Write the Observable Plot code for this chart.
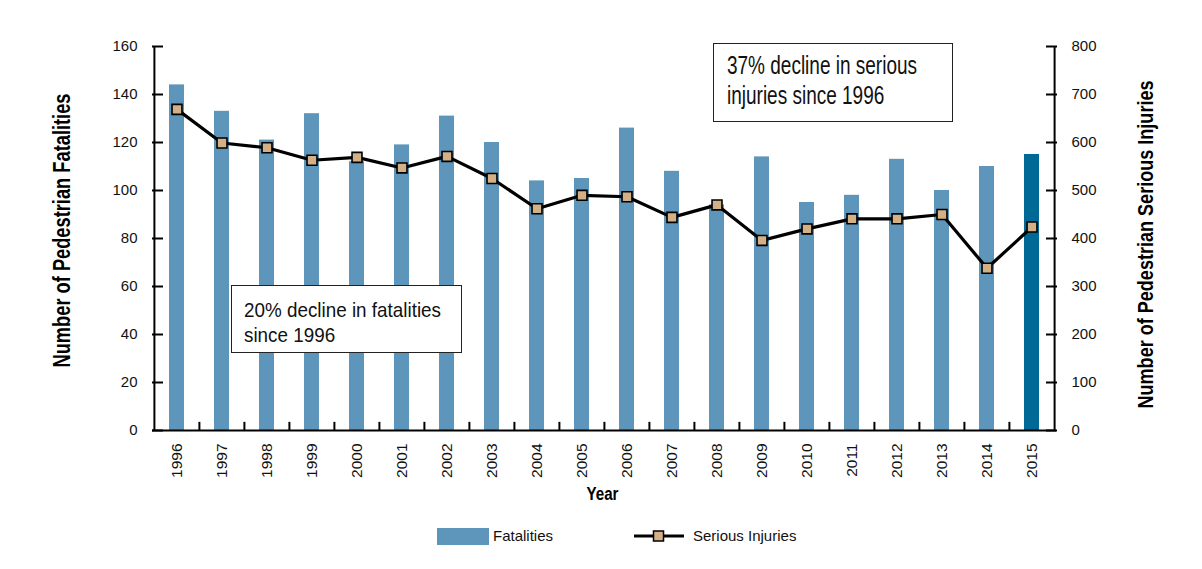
<!DOCTYPE html>
<html>
<head>
<meta charset="utf-8">
<script src="https://cdn.jsdelivr.net/npm/d3@7"></script>
<script src="https://cdn.jsdelivr.net/npm/@observablehq/plot@0.6"></script>
<style>
  html, body { margin: 0; padding: 0; background: #fff; }
  #wrap { position: relative; width: 1202px; height: 569px; background: #fff; overflow: hidden; }
  #chart { position: absolute; left: 0; top: 0; }
  .note { position: absolute; box-sizing: border-box; border: 1px solid #222; background: #fff;
          font-family: "Liberation Sans", Arial, sans-serif; color: #111; white-space: nowrap; }
  .note div { transform-origin: left center; width: max-content; }
  .leg { position: absolute; font-family: "Liberation Sans", Arial, sans-serif; font-size: 15px; color: #111; line-height: 18px; }
</style>
</head>
<body>
<div id="wrap">
  <div id="chart"></div>
  <div class="note" id="note1" data-fit="197" style="left:231px;top:285px;width:231px;height:68px;padding:11px 0 0 12px;font-size:21px;line-height:25px;">
    <div>20% decline in fatalities</div><div>since 1996</div>
  </div>
  <div class="note" id="note2" data-fit="190" style="left:713px;top:43px;width:240px;height:79px;padding:6px 0 0 13px;font-size:25px;line-height:30px;">
    <div>37% decline in serious</div><div>injuries since 1996</div>
  </div>
  <div class="leg" style="left:437px;top:528px;width:52px;height:17px;background:#5e95bb;"></div>
  <div class="leg" style="left:493px;top:527px;">Fatalities</div>
  <svg class="leg" style="left:632px;top:526px;" width="54" height="20">
    <line x1="2" x2="52" y1="10" y2="10" stroke="#000" stroke-width="3"></line>
    <rect x="21.5" y="5" width="10" height="10" fill="#d4b086" stroke="#000" stroke-width="1.5"></rect>
  </svg>
  <div class="leg" style="left:693px;top:527px;">Serious Injuries</div>
</div>
<script>
// ---- data ----
const years = ["1996","1997","1998","1999","2000","2001","2002","2003","2004","2005",
               "2006","2007","2008","2009","2010","2011","2012","2013","2014","2015"];
const fatalities = [144,133,121,132,112,119,131,120,104,105,126,108,94,114,95,98,113,100,110,115];
const seriousInjuries = [669,599,589,563,569,547,571,525,462,490,487,444,470,396,420,441,441,450,338,424];
const fatalityTicks = [0,20,40,60,80,100,120,140,160];
const injuryTicks = [0,100,200,300,400,500,600,700,800];
const highlightYear = "2015";

const rows = years.map((year, i) => ({year, fatal: fatalities[i], inj: seriousInjuries[i]}));
const ratio = 160 / 800; // right-axis units mapped onto left-axis scale

const W = 1202, H = 515, mL = 152, mR = 146, mT = 46, mB = 85;
const halfStep = (W - mL - mR) / years.length / 2;
const regular = '"Liberation Sans", Arial, sans-serif';

const titleLeft = "Number of Pedestrian Fatalities";
const titleRight = "Number of Pedestrian Serious Injuries";
const titleX = "Year";

const chart = Plot.plot({
  width: W, height: H,
  marginLeft: mL, marginRight: mR, marginTop: mT, marginBottom: mB,
  style: {fontFamily: regular, fontSize: "15px", color: "#111", background: "#fff"},
  x: {domain: years, paddingInner: 0.667, paddingOuter: 0.3335, label: null},
  y: {domain: [0, 160], label: null},
  marks: [
    Plot.barY(rows, {x: "year", y: "fatal", fill: d => d.year === highlightYear ? "#006996" : "#5e95bb"}),
    Plot.ruleX(years.slice(1), {x: d => d, dx: -halfStep, y1: 0, y2: 3.4, stroke: "#000", strokeWidth: 2}),
    Plot.ruleY([0], {stroke: "#000", strokeWidth: 2}),
    Plot.ruleX([years[0]], {dx: -halfStep, y1: 0, y2: 160, stroke: "#000", strokeWidth: 2}),
    Plot.ruleX([years[years.length - 1]], {dx: halfStep, y1: 0, y2: 160, stroke: "#000", strokeWidth: 2}),
    Plot.axisY(fatalityTicks, {anchor: "left", tickSize: -11, tickPadding: 26, strokeWidth: 2, stroke: "#000", fontSize: 15, label: null}),
    Plot.axisY(injuryTicks, {anchor: "right", y: d => d * ratio, tickFormat: d => d, tickSize: -11, tickPadding: 26, strokeWidth: 2, stroke: "#000", fontSize: 15, label: null}),
    Plot.axisX({anchor: "bottom", tickSize: 0, tickPadding: 13, tickRotate: -90, fontSize: 15.5, label: null}),
    Plot.line(rows, {x: "year", y: d => d.inj * ratio, stroke: "#000", strokeWidth: 3.2, strokeLinejoin: "round"}),
    Plot.dot(rows, {x: "year", y: d => d.inj * ratio, symbol: "square", r: 5.6, fill: "#d4b086", stroke: "#000", strokeWidth: 1.6}),
    Plot.text([titleLeft], {frameAnchor: "left", textAnchor: "middle", dx: -90, dy: -8, rotate: -90, fontFamily: regular, fontWeight: "bold", fontSize: 23, fill: "#000"}),
    Plot.text([titleRight], {frameAnchor: "right", textAnchor: "middle", dx: 90, dy: 6, rotate: -90, fontFamily: regular, fontWeight: "bold", fontSize: 21.5, fill: "#000"}),
    Plot.text([titleX], {frameAnchor: "bottom", textAnchor: "middle", dx: -2, dy: 69, fontFamily: regular, fontWeight: "bold", fontSize: 18, fill: "#000"})
  ]
});
document.getElementById("chart").appendChild(chart);

// condensed look: compress titles to their reference lengths
const fitLengths = new Map([[titleLeft, 274], [titleRight, 328], [titleX, 32]]);
chart.querySelectorAll("text").forEach(t => {
  const L = fitLengths.get(t.textContent);
  if (L) { t.setAttribute("textLength", L); t.setAttribute("lengthAdjust", "spacingAndGlyphs"); }
});
// condensed look for annotation boxes
document.querySelectorAll(".note").forEach(box => {
  const lines = box.querySelectorAll("div");
  const w = lines[0].getBoundingClientRect().width;
  const s = (+box.dataset.fit) / w;
  lines.forEach(l => l.style.transform = `scaleX(${s})`);
});
</script>
</body>
</html>
